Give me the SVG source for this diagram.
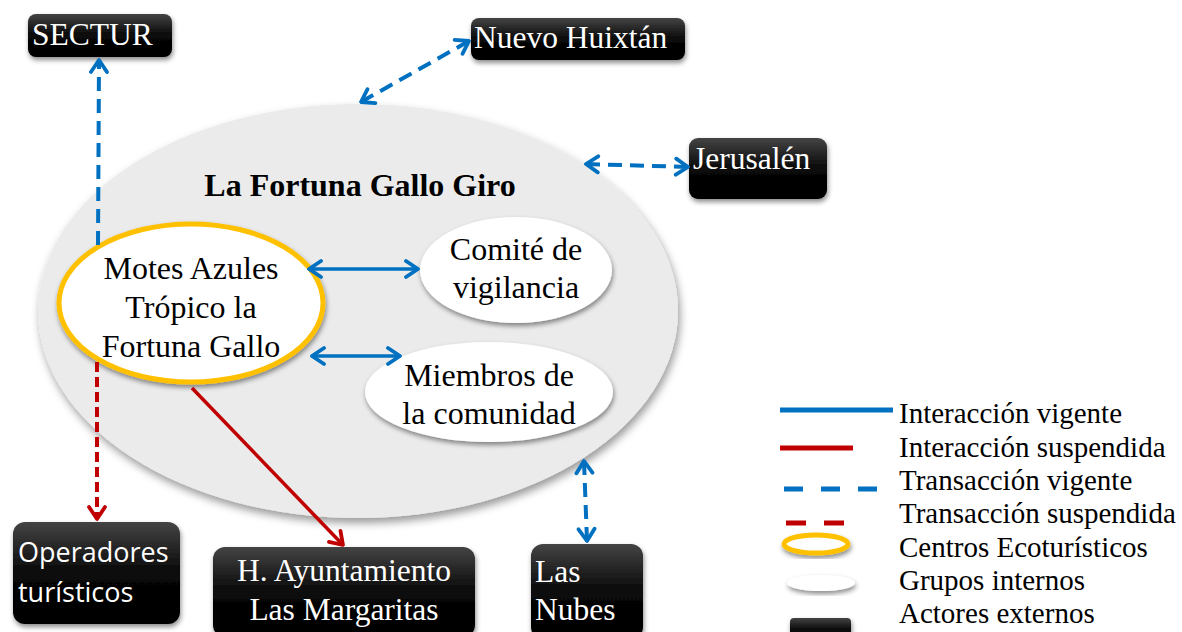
<svg xmlns="http://www.w3.org/2000/svg" width="1182" height="632" viewBox="0 0 1182 632">
<style>
.t{font-family:"Liberation Serif","Times New Roman",serif;font-size:32px;fill:#000}
.w{font-family:"Liberation Serif","Times New Roman",serif;font-size:31.5px;fill:#fff}
.s{font-family:"Open Sans","Liberation Sans",sans-serif;font-size:27px;fill:#fff}
.lg{font-family:"Liberation Serif","Times New Roman",serif;font-size:29px;fill:#000}
.box{fill:url(#gb);filter:url(#sh)}
.grp{fill:#fff;filter:url(#sh)}
.bs{fill:none;stroke:#0070C0;stroke-width:3.5}
.bd{fill:none;stroke:#0070C0;stroke-width:4;stroke-dasharray:14 8}
.rs{fill:none;stroke:#C00000;stroke-width:3.5}
.rd{fill:none;stroke:#C00000;stroke-width:4;stroke-dasharray:10 5}
</style>
<defs>
<linearGradient id="gb" x1="0" y1="0" x2="0" y2="1">
<stop offset="0" stop-color="#444"/>
<stop offset="0.5" stop-color="#080808"/>
<stop offset="1" stop-color="#000"/>
</linearGradient>
<filter id="sh" x="-20%" y="-20%" width="140%" height="150%">
<feDropShadow dx="1" dy="3" stdDeviation="2.5" flood-color="#000" flood-opacity="0.45"/>
</filter>
<filter id="shb" x="-10%" y="-10%" width="120%" height="125%">
<feDropShadow dx="2" dy="5" stdDeviation="4" flood-color="#000" flood-opacity="0.4"/>
</filter>
<marker id="mb" viewBox="-15 -11 17 22" refX="0" refY="0" markerWidth="17" markerHeight="22" markerUnits="userSpaceOnUse" orient="auto-start-reverse">
<path d="M-12,-8 L0,0 L-12,8" fill="none" stroke="#0070C0" stroke-width="3.8" stroke-linecap="round" stroke-linejoin="round" stroke-dasharray="none"/>
</marker>
<marker id="mr" viewBox="-15 -11 17 22" refX="0" refY="0" markerWidth="17" markerHeight="22" markerUnits="userSpaceOnUse" orient="auto-start-reverse">
<path d="M-12,-8 L0,0 L-12,8" fill="none" stroke="#C00000" stroke-width="3.8" stroke-linecap="round" stroke-linejoin="round" stroke-dasharray="none"/>
</marker>
</defs>
<rect width="1182" height="632" fill="#fff"/>

<g id="fortuna">
<ellipse cx="358" cy="311" rx="320" ry="207" fill="#EBEBEB" filter="url(#shb)"/>
<text class="t" x="360" y="196" text-anchor="middle" font-weight="bold">La Fortuna Gallo Giro</text>
</g>

<g id="motes">
<ellipse cx="191" cy="303" rx="132" ry="79" fill="#fff" stroke="#FFC000" stroke-width="5" filter="url(#sh)"/>
<text class="t" text-anchor="middle"><tspan x="191" y="279">Motes Azules</tspan><tspan x="191" y="318">Trópico la</tspan><tspan x="191" y="357">Fortuna Gallo</tspan></text>
</g>

<g id="comite">
<ellipse class="grp" cx="516" cy="270" rx="96" ry="53"/>
<text class="t" text-anchor="middle"><tspan x="516" y="260">Comité de</tspan><tspan x="516" y="298">vigilancia</tspan></text>
</g>

<g id="miembros">
<ellipse class="grp" cx="489" cy="392" rx="124" ry="50"/>
<text class="t" text-anchor="middle"><tspan x="489" y="386">Miembros de</tspan><tspan x="489" y="424">la comunidad</tspan></text>
</g>

<g id="sectur">
<rect class="box" x="28" y="14" width="144" height="43" rx="8"/>
<text class="w" x="32" y="45">SECTUR</text>
</g>

<g id="nuevo-huixtan">
<rect class="box" x="471" y="18" width="214" height="42" rx="8"/>
<text class="w" x="474" y="48">Nuevo Huixtán</text>
</g>

<g id="jerusalen">
<rect class="box" x="689" y="138" width="138" height="61" rx="9"/>
<text class="w" x="693" y="169">Jerusalén</text>
</g>

<g id="operadores">
<rect class="box" x="13" y="522" width="167" height="102" rx="12"/>
<text class="s"><tspan x="18" y="562">Operadores</tspan><tspan x="18" y="602">turísticos</tspan></text>
</g>

<g id="ayuntamiento">
<rect class="box" x="213" y="547" width="262" height="90" rx="12"/>
<text class="w" text-anchor="middle"><tspan x="344" y="581">H. Ayuntamiento</tspan><tspan x="344" y="620">Las Margaritas</tspan></text>
</g>

<g id="las-nubes">
<rect class="box" x="531" y="544" width="112" height="95" rx="12"/>
<text class="w"><tspan x="535" y="582">Las</tspan><tspan x="535" y="620">Nubes</tspan></text>
</g>

<g id="connectors">
<line class="bs" x1="309" y1="269" x2="418" y2="269" marker-start="url(#mb)" marker-end="url(#mb)"/>
<line class="bs" x1="312" y1="356" x2="400" y2="356" marker-start="url(#mb)" marker-end="url(#mb)"/>
<line class="bd" x1="98" y1="245" x2="99" y2="60" marker-end="url(#mb)"/>
<line class="bd" x1="361" y1="102" x2="469" y2="41" marker-start="url(#mb)" marker-end="url(#mb)"/>
<line class="bd" x1="586" y1="164" x2="688" y2="167" marker-start="url(#mb)" marker-end="url(#mb)"/>
<line class="bd" x1="584" y1="461" x2="587" y2="541" marker-start="url(#mb)" marker-end="url(#mb)"/>
<line class="rd" x1="97" y1="362" x2="97" y2="519" marker-end="url(#mr)"/>
<line class="rs" x1="192" y1="388" x2="343" y2="545" marker-end="url(#mr)"/>
</g>

<g id="legend">
<line x1="780" y1="410" x2="893" y2="410" stroke="#0070C0" stroke-width="5"/>
<line x1="780" y1="448" x2="853" y2="448" stroke="#C00000" stroke-width="5"/>
<line x1="784" y1="489" x2="887" y2="489" stroke="#0070C0" stroke-width="5" stroke-dasharray="19 18"/>
<line x1="786" y1="523" x2="848" y2="523" stroke="#C00000" stroke-width="5" stroke-dasharray="20 18"/>
<ellipse cx="816" cy="544" rx="32" ry="9" fill="#fff" stroke="#FFC000" stroke-width="5" filter="url(#sh)"/>
<ellipse cx="821" cy="583" rx="34" ry="8" fill="#fff" filter="url(#sh)"/>
<rect x="790" y="618" width="61" height="24" rx="4" fill="url(#gb)" filter="url(#sh)"/>
<text class="lg"><tspan x="899" y="423">Interacción vigente</tspan><tspan x="899" y="457">Interacción suspendida</tspan><tspan x="899" y="490">Transacción vigente</tspan><tspan x="899" y="523">Transacción suspendida</tspan><tspan x="899" y="557">Centros Ecoturísticos</tspan><tspan x="899" y="590">Grupos internos</tspan><tspan x="899" y="623">Actores externos</tspan></text>
</g>
</svg>
